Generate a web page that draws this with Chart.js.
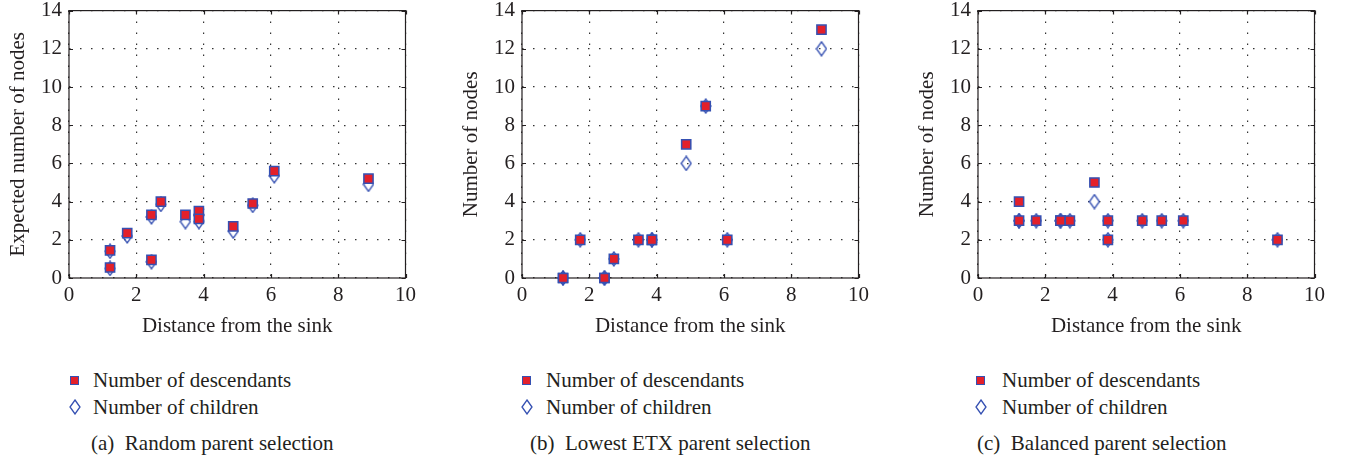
<!DOCTYPE html>
<html>
<head>
<meta charset="utf-8">
<script src="https://cdn.jsdelivr.net/npm/chart.js@4.4.1/dist/chart.umd.min.js"></script>
<style>
    body {
        margin: 0;
        width: 1354px;
        height: 461px;
        overflow: hidden;
        position: relative;
        background: #fff;
        color: #231f20;
        font-family: "Liberation Serif", "DejaVu Serif", serif;
    }
    .plot { position: absolute; top: -9px; width: 421px; height: 348px; }
    .legend-row {
        position: absolute;
        font-size: 21px;
        line-height: 27px;
        height: 27px;
        white-space: nowrap;
    }
    .legend-row canvas, .legend-row span.sq { position: absolute; }
    .caption {
        position: absolute;
        top: 430px;
        font-size: 21px;
        line-height: 27px;
        white-space: pre;
    }
</style>
</head>
<body>
<script>
// Node distances from the sink (same nodes in all three panels)
const distances = [1.22, 1.22, 1.73, 2.45, 2.45, 2.73, 3.46, 3.86, 3.86, 4.88, 5.46, 6.10, 8.90];

// (a) Random parent selection (expected values)
const randomDescendants = [1.45, 0.55, 2.35, 3.3, 0.95, 4.0, 3.3, 3.5, 3.1, 2.7, 3.9, 5.6, 5.2];
const randomChildren = [1.4, 0.5, 2.2, 3.2, 0.85, 3.85, 2.95, 3.3, 2.95, 2.45, 3.8, 5.35, 4.9];

// (b) Lowest ETX parent selection
const etxDescendants = [0, 0, 2, 0, 0, 1, 2, 2, 2, 7, 9, 2, 13];
const etxChildren = [0, 0, 2, 0, 0, 1, 2, 2, 2, 6, 9, 2, 12];

// (c) Balanced parent selection
const balancedDescendants = [4, 3, 3, 3, 3, 3, 5, 3, 2, 3, 3, 3, 2];
const balancedChildren = [3, 3, 3, 3, 3, 3, 4, 3, 2, 3, 3, 3, 2];

const xTicks = [0, 2, 4, 6, 8, 10];
const yTicks = [0, 2, 4, 6, 8, 10, 12, 14];
const seriesLabels = ["Number of descendants", "Number of children"];
const xTitle = "Distance from the sink";
const yTitles = ["Expected number of nodes", "Number of nodes", "Number of nodes"];
const captions = ["(a)  Random parent selection", "(b)  Lowest ETX parent selection", "(c)  Balanced parent selection"];

const RED = "#e3202a";
const BLUE = "#3550b2";
const INK = "#231f20";

// open tall diamond marker used for "children"
function makeDiamond() {
    const c = document.createElement("canvas");
    c.width = 12;
    c.height = 16;
    const g = c.getContext("2d");
    g.strokeStyle = BLUE;
    g.lineWidth = 1.3;
    g.beginPath();
    g.moveTo(6, 1);
    g.lineTo(11, 8);
    g.lineTo(6, 15);
    g.lineTo(1, 8);
    g.closePath();
    g.stroke();
    return c;
}

// solid box + inward tick marks, like the original figure
const framePlugin = {
    id: "frame",
    beforeDatasetsDraw(chart) {
        const { ctx, chartArea: a, scales } = chart;
        ctx.save();
        ctx.strokeStyle = INK;
        ctx.lineWidth = 1.2;
        ctx.strokeRect(a.left, a.top, a.width, a.height);
        ctx.beginPath();
        scales.x.ticks.forEach((t) => {
            const px = Math.round(scales.x.getPixelForValue(t.value)) + 0.5;
            ctx.moveTo(px, a.bottom);
            ctx.lineTo(px, a.bottom - 4);
            ctx.moveTo(px, a.top);
            ctx.lineTo(px, a.top + 4);
        });
        scales.y.ticks.forEach((t) => {
            const py = Math.round(scales.y.getPixelForValue(t.value)) + 0.5;
            ctx.moveTo(a.left, py);
            ctx.lineTo(a.left + 4, py);
            ctx.moveTo(a.right, py);
            ctx.lineTo(a.right - 4, py);
        });
        ctx.stroke();
        ctx.restore();
    },
};

const panels = [
    { left: 0, desc: randomDescendants, child: randomChildren, legendX: 75, textX: 93, captionX: 91 },
    { left: 453, desc: etxDescendants, child: etxChildren, legendX: 527, textX: 546, captionX: 530 },
    { left: 909, desc: balancedDescendants, child: balancedChildren, legendX: 981, textX: 1002, captionX: 977 },
];

function toPoints(values) {
    return values.map((v, i) => ({ x: distances[i], y: v }));
}

function addLegend(p, idx) {
    const rows = [367, 394];
    rows.forEach((top, i) => {
        const row = document.createElement("div");
        row.className = "legend-row";
        row.style.top = top + "px";
        row.style.left = p.legendX + "px";
        if (i === 0) {
            const sq = document.createElement("span");
            sq.className = "sq";
            sq.style.cssText = "left:-5px;top:9px;width:7px;height:7px;background:" + RED + ";border:1.5px solid " + BLUE + ";";
            row.appendChild(sq);
        } else {
            const d = makeDiamond();
            d.style.left = "-6px";
            d.style.top = "5px";
            row.appendChild(d);
        }
        const txt = document.createElement("span");
        txt.style.position = "absolute";
        txt.style.left = (p.textX - p.legendX) + "px";
        txt.textContent = seriesLabels[i];
        row.appendChild(txt);
        document.body.appendChild(row);
    });
    const cap = document.createElement("div");
    cap.className = "caption";
    cap.style.left = p.captionX + "px";
    cap.textContent = captions[idx];
    document.body.appendChild(cap);
}

const tickFont = { family: "'Liberation Serif', serif", size: 21 };

panels.forEach((p, idx) => {
    const wrap = document.createElement("div");
    wrap.className = "plot";
    wrap.style.left = p.left + "px";
    const canvas = document.createElement("canvas");
    wrap.appendChild(canvas);
    document.body.appendChild(wrap);

    new Chart(canvas.getContext("2d"), {
        type: "scatter",
        data: {
            datasets: [
                {
                    label: seriesLabels[0],
                    data: toPoints(p.desc),
                    pointStyle: "rect",
                    pointRadius: 6.5,
                    backgroundColor: RED,
                    borderColor: BLUE,
                    borderWidth: 1.5,
                    clip: false,
                },
                {
                    label: seriesLabels[1],
                    data: toPoints(p.child),
                    pointStyle: makeDiamond(),
                    pointRadius: 7,
                    clip: false,
                },
            ],
        },
        options: {
            responsive: true,
            maintainAspectRatio: false,
            animation: false,
            events: [],
            layout: { padding: { left: 0, right: 12, top: 0, bottom: 0 } },
            plugins: {
                legend: { display: false },
                tooltip: { enabled: false },
            },
            scales: {
                x: {
                    type: "linear",
                    min: 0,
                    max: 10,
                    afterBuildTicks: (s) => { s.ticks = xTicks.map((v) => ({ value: v })); },
                    afterFit: (s) => { s.height = 61; },
                    ticks: { font: tickFont, color: INK, padding: 5, maxRotation: 0 },
                    grid: { color: "#333", lineWidth: 1.2, drawTicks: false },
                    border: { display: false, dash: [1.5, 9.5] },
                    title: {
                        display: true,
                        text: xTitle,
                        font: tickFont,
                        color: INK,
                        padding: { top: 0, bottom: 0 },
                    },
                },
                y: {
                    min: 0,
                    max: 14,
                    afterBuildTicks: (s) => { s.ticks = yTicks.map((v) => ({ value: v })); },
                    afterFit: (s) => { s.width = 69; },
                    ticks: { font: tickFont, color: INK, padding: 7 },
                    grid: { color: "#333", lineWidth: 1.2, drawTicks: false },
                    border: { display: false, dash: [1.5, 9.5] },
                    title: {
                        display: true,
                        text: yTitles[idx],
                        font: tickFont,
                        color: INK,
                        padding: { top: 6, bottom: 0 },
                    },
                },
            },
        },
        plugins: [framePlugin],
    });

    addLegend(p, idx);
});
</script>
</body>
</html>
